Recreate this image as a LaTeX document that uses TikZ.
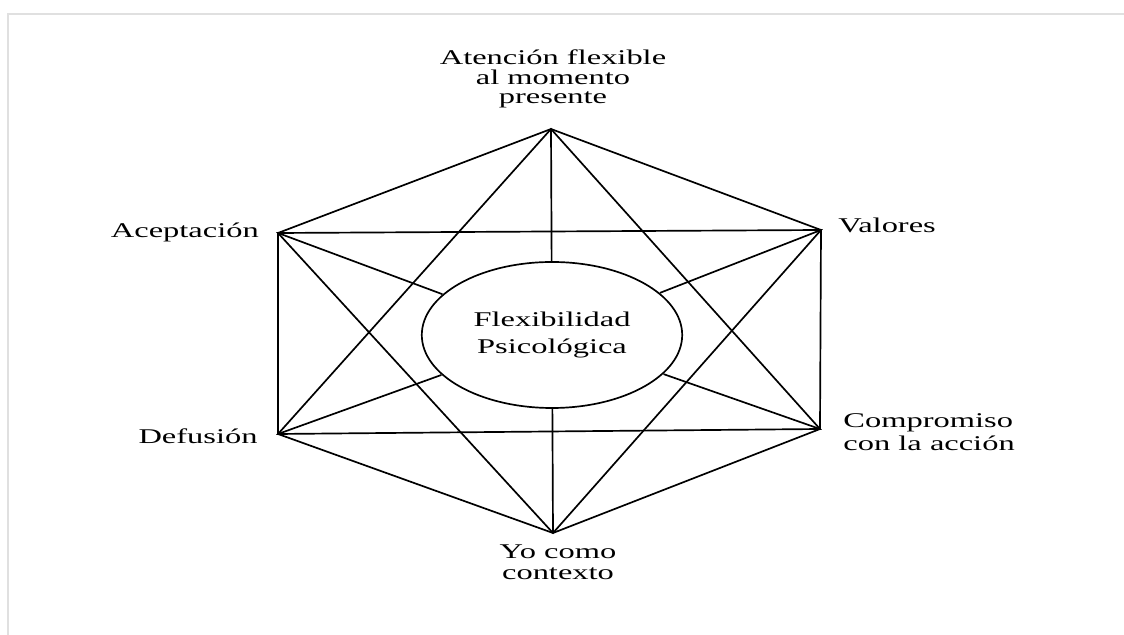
\documentclass[tikz,border=0pt]{standalone}
\usepackage{fontspec}
\setmainfont{Liberation Serif}
\usetikzlibrary{shapes.geometric}

\begin{document}
\begin{tikzpicture}[
  lbl/.style={font=\fontsize{14.9}{13.9}\selectfont, xscale=1.55, inner sep=0pt},
  edge/.style={line width=1.2pt}]
\useasboundingbox (0,0) rectangle (28.1,15.875);
%\draw[step=1cm,gray,very thin] (0,0) grid (28,15);
\draw[black!12, line width=1.4pt] (0.2,0) -- (0.2,15.525) -- (28.1,15.525);
% corners of the hexagon
\coordinate (vat) at (13.775,12.65);
\coordinate (vac) at (6.95,10.05);
\coordinate (vva) at (20.525,10.125);
\coordinate (vde) at (6.95,5.025);
\coordinate (vco) at (20.5,5.15);
\coordinate (vyo) at (13.825,2.55);
\node[lbl, ellipse, draw, line width=1.2pt, minimum width=4.2cm, minimum height=3.65cm,
  align=center, font=\fontsize{14.9}{18.5}\selectfont] (flex) at (13.8,7.5) {Flexibilidad\\Psicológica};
% labels
\node[lbl, align=center, anchor=base] (atencion) at (13.825,13.275) {Atención flexible\\al momento\\presente};
\node[lbl, anchor=base east] (aceptacion) at (6.48,9.925) {Aceptación};
\node[lbl, anchor=base west] (valores) at (20.95,10.05) {Valores};
\node[lbl, anchor=base east] (defusion) at (6.45,4.775) {Defusión};
\node[lbl, align=left, anchor=base west, font=\fontsize{14.9}{16.4}\selectfont] (compromiso) at (21.075,4.6) {Compromiso\\con la acción};
\node[lbl, align=center, anchor=base, font=\fontsize{14.9}{15.6}\selectfont] (yo) at (13.95,1.375) {Yo como\\contexto};
% hexagon and star
\draw[edge] (vat) -- (vva) -- (vco) -- (vyo) -- (vde) -- (vac) -- cycle;
\draw[edge] (vat) -- (vco) -- (vde) -- cycle;
\draw[edge] (vac) -- (vva) -- (vyo) -- cycle;
% spokes to the centre
\foreach \v in {vat,vac,vva,vde,vco,vyo}
  \draw[edge] (\v) -- (flex);
\end{tikzpicture}
\end{document}
